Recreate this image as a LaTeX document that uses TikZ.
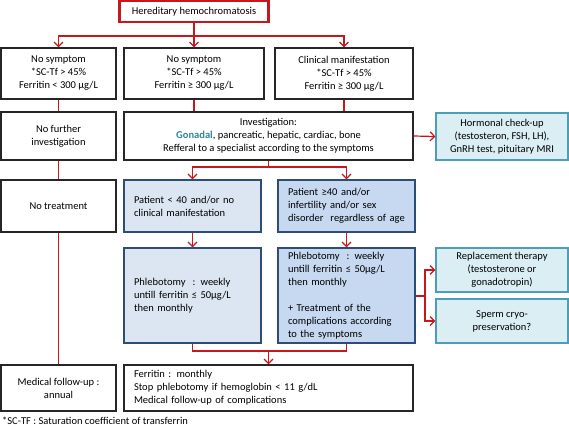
\documentclass[tikz,border=0pt]{standalone}
\usepackage{fontspec}
\setmainfont{Carlito}
\usetikzlibrary{arrows.meta}
\definecolor{cred}{HTML}{C8161D}
\definecolor{bluefillA}{HTML}{DCE6F2}
\definecolor{bluefillB}{HTML}{C6D9F1}
\definecolor{blueborder}{HTML}{2E4D74}
\definecolor{tealfill}{HTML}{DBEEF4}
\definecolor{tealborder}{HTML}{4A9FB5}
\definecolor{tealtext}{HTML}{31859C}
\begin{document}
\begin{tikzpicture}[x=1pt,y=-1pt,
  every node/.style={font=\fontsize{10.5}{13}\selectfont, inner sep=0pt},
  bbox/.style={draw=black!85, line width=1.2pt, fill=white, align=center, minimum width=#1},
  lbox/.style={draw=blueborder, line width=1.2pt, fill=bluefillA, align=left, text width=#1-20pt, inner xsep=10pt},
  rbox/.style={draw=blueborder, line width=1.2pt, fill=bluefillB, align=left, text width=#1-20pt, inner xsep=10pt},
  tbox/.style={draw=tealborder, line width=1.2pt, fill=tealfill, align=center, minimum width=#1},
  conn/.style={draw=cred, line width=1.2pt},
  arr/.style={conn, -{Straight Barb[length=4.5pt,width=9pt,line width=1.2pt]}}
]
\useasboundingbox (0,0) rectangle (569,428);
% top
\node[draw=cred, line width=2.2pt, fill=white, minimum width=149, minimum height=21] (top) at (194,11.5) {Hereditary hemochromatosis};
% row 1
\node[bbox=115, minimum height=51] (b1) at (58.5,73.5) {No symptom\\*SC-Tf > 45\%\\Ferritin < 300 µg/L};
\node[bbox=140, minimum height=51] (b2) at (194,73.5) {No symptom\\*SC-Tf > 45\%\\Ferritin ≥ 300 µg/L};
\node[bbox=138, minimum height=51] (b3) at (344,73.5) {Clinical manifestation\\*SC-Tf > 45\%\\Ferritin ≥ 300 µg/L};
% row 2
\node[bbox=115, minimum height=48] (nf) at (58.5,136) {No further\\investigation};
\node[bbox=289, minimum height=48] (inv) at (268.5,136) {Investigation:\\{\color{tealtext}\bfseries Gonadal}, pancreatic, hepatic, cardiac, bone\\Refferal to a specialist according to the symptoms};
\node[tbox=132, minimum height=47] (horm) at (502,136.5) {Hormonal check-up\\(testosteron, FSH, LH),\\GnRH test, pituitary MRI};
% row 3
\node[bbox=115, minimum height=52] (nt) at (58.5,206) {No treatment};
\node[lbox=137, minimum height=52] (p1) at (192.5,206) {Patient < 40 and/or no\\clinical manifestation};
\node[rbox=137, minimum height=52] (p2) at (346.5,206) {Patient ≥40 and/or\\infertility and/or sex\\disorder~ regardless of age};
% row 4
\node[lbox=137, minimum height=95] (ph1) at (192.5,295.5) {Phlebotomy~ : weekly\\untill ferritin ≤ 50µg/L\\then monthly};
\node[rbox=137, minimum height=95] (ph2) at (346.5,295.5) {Phlebotomy~ : weekly\\untill ferritin ≤ 50µg/L\\then monthly\\[13pt]+ Treatment of the\\complications according\\to the symptoms};
\node[tbox=132, minimum height=44] (rep) at (502,270) {Replacement therapy\\(testosterone or\\gonadotropin)};
\node[tbox=132, minimum height=44] (sperm) at (502,321) {Sperm cryo-\\preservation?};
% row 5
\node[bbox=115, minimum height=46] (mf) at (58.5,388) {Medical follow-up :\\annual};
\node[draw=black!85, line width=1.2pt, fill=white, align=left, text width=269pt, inner xsep=10pt, minimum height=46] (fer) at (268.5,388) {Ferritin : monthly\\Stop phlebotomy if hemoglobin < 11 g/dL\\Medical follow-up of complications};
% footnote
\node[anchor=west] (fn) at (2,421) {*SC-TF : Saturation coefficient of transferrin};
% connectors
\coordinate (j1) at (194,36);
\draw[conn] (top.south) -- (j1);
\draw[arr] (j1) -| (b1.north);
\draw[arr] (j1) -| (b3.north);
\draw[arr] (j1) -- (b2.north);
\draw[conn] (b1) -- (nf);
\draw[conn] (b2) -- (b2 |- inv.north);
\draw[conn] (b3) -- (b3 |- inv.north);
\draw[arr] (inv.east) -- (horm.west);
\draw[conn] (nf) -- (nt);
\draw[conn] (nt) -- (mf);
\coordinate (j2) at (268.5,167);
\draw[conn] (inv.south) -- (j2);
\draw[arr] (j2) -| (p1.north);
\draw[arr] (j2) -| (p2.north);
\draw[arr] (p1) -- (ph1);
\draw[arr] (p2) -- (ph2);
\coordinate (j4) at (425,296);
\draw[conn] (ph2.east |- j4) -- (j4);
\draw[arr] (j4) |- (rep.west);
\draw[arr] (j4) |- (sperm.west);
\coordinate (j3) at (268.5,351);
\draw[conn] (ph1.south) |- (j3) -| (ph2.south);
\draw[arr] (j3) -- (fer.north);
\end{tikzpicture}
\end{document}
